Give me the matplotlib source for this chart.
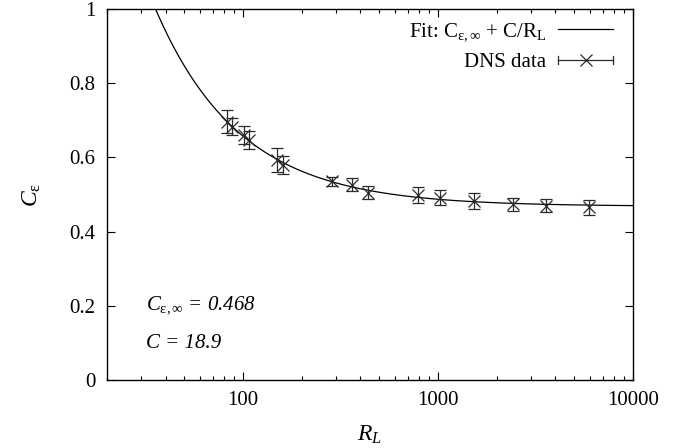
import numpy as np
import matplotlib
matplotlib.use("Agg")
import matplotlib.pyplot as plt
from matplotlib.lines import Line2D
from matplotlib.legend_handler import HandlerBase
from matplotlib.ticker import LogLocator, NullFormatter, FixedLocator

# ============================================================
# 1. DATA
# ============================================================
re_l = [82.6, 87.5, 101.6, 106.6, 149, 160, 285, 361, 437, 787, 1026, 1538, 2439, 3573, 5960]
c_eps = [0.696, 0.683, 0.660, 0.647, 0.593, 0.580, 0.535, 0.526, 0.505, 0.499, 0.491, 0.483, 0.473, 0.470, 0.465]
c_err = [0.031, 0.022, 0.024, 0.024, 0.032, 0.024, 0.012, 0.017, 0.017, 0.022, 0.020, 0.021, 0.018, 0.018, 0.021]

c_inf = 0.468
c_fit = 18.9

# ============================================================
# 2. STYLE
# ============================================================
plt.rcParams["font.family"] = ["Liberation Serif", "DejaVu Serif"]
plt.rcParams["mathtext.fontset"] = "custom"
plt.rcParams["mathtext.rm"] = "Liberation Serif"
plt.rcParams["mathtext.it"] = "Liberation Serif:italic"
plt.rcParams["mathtext.fallback"] = "stix"
plt.rcParams["font.size"] = 15

PT_COLOR = "#2a2a2a"


# gnuplot-style key entry: horizontal bar with end caps and an x in the middle
class ErrKeyHandler(HandlerBase):
    def create_artists(self, legend, orig, xd, yd, w, h, fontsize, trans):
        y = yd + h / 2
        bar = Line2D([xd, xd + w], [y, y], color=PT_COLOR, lw=0.9)
        c1 = Line2D([xd, xd], [y - 3, y + 3], color=PT_COLOR, lw=0.9)
        c2 = Line2D([xd + w, xd + w], [y - 3, y + 3], color=PT_COLOR, lw=0.9)
        mk = Line2D([xd + w / 2], [y], marker="x", ms=9, mew=0.9, color=PT_COLOR)
        arts = [bar, c1, c2, mk]
        for a in arts:
            a.set_transform(trans)
        return arts


fig = plt.figure(figsize=(6.85, 4.48), dpi=100)
ax = fig.add_axes([0.156, 0.152, 0.768, 0.828])

# ============================================================
# 3. PLOT
# ============================================================
xs = np.logspace(np.log10(20), 4, 400)
fit_line, = ax.plot(xs, c_inf + c_fit / xs, color="black", lw=0.9)
ax.errorbar(re_l, c_eps, yerr=c_err, fmt="x", color=PT_COLOR, ms=9, mew=0.9,
            elinewidth=0.9, capsize=4, capthick=0.9)

ax.set_xscale("log")
ax.set_xlim(20, 10000)
ax.set_ylim(0, 1)
ax.xaxis.set_major_locator(FixedLocator([100, 1000, 10000]))
ax.xaxis.set_major_formatter(matplotlib.ticker.FuncFormatter(lambda v, p: f"{int(v)}"))
ax.xaxis.set_minor_locator(LogLocator(base=10, subs=np.arange(2, 10)))
ax.xaxis.set_minor_formatter(NullFormatter())
ax.set_yticks([0, 0.2, 0.4, 0.6, 0.8, 1])
ax.set_yticklabels(["0", "0.2", "0.4", "0.6", "0.8", "1"])
ax.tick_params(which="both", direction="in", top=True, right=True, width=0.8, labelsize=15)
ax.tick_params(which="major", length=6, pad=8)
ax.tick_params(which="minor", length=3)
for s in ax.spines.values():
    s.set_linewidth(1.0)

ax.set_xlabel(r"$R_L$", fontsize=17, labelpad=10)
ax.set_ylabel(r"$C_{\mathrm{\epsilon}}$", fontsize=17, labelpad=19)

ax.text(0.075, 0.19, r"$C_{\mathrm{\epsilon},\infty}$ = 0.468", transform=ax.transAxes,
        fontsize=15, style="italic")
ax.text(0.075, 0.085, "C = 18.9", transform=ax.transAxes, fontsize=15, style="italic")

dns_proxy = Line2D([], [])
ax.legend([fit_line, dns_proxy],
          [r"Fit: $\mathrm{C}_{\mathrm{\epsilon,\infty}}$ + C/R$_\mathrm{L}$", "DNS data"],
          handler_map={dns_proxy: ErrKeyHandler()},
          loc="upper right", bbox_to_anchor=(1 - 7 / 526, 1.0),
          frameon=False, markerfirst=False, handlelength=2.65,
          fontsize=15, borderaxespad=0.4, labelspacing=0.45, handletextpad=0.6,
          borderpad=0.2)

plt.savefig("out.png", dpi=100)
plt.close()
